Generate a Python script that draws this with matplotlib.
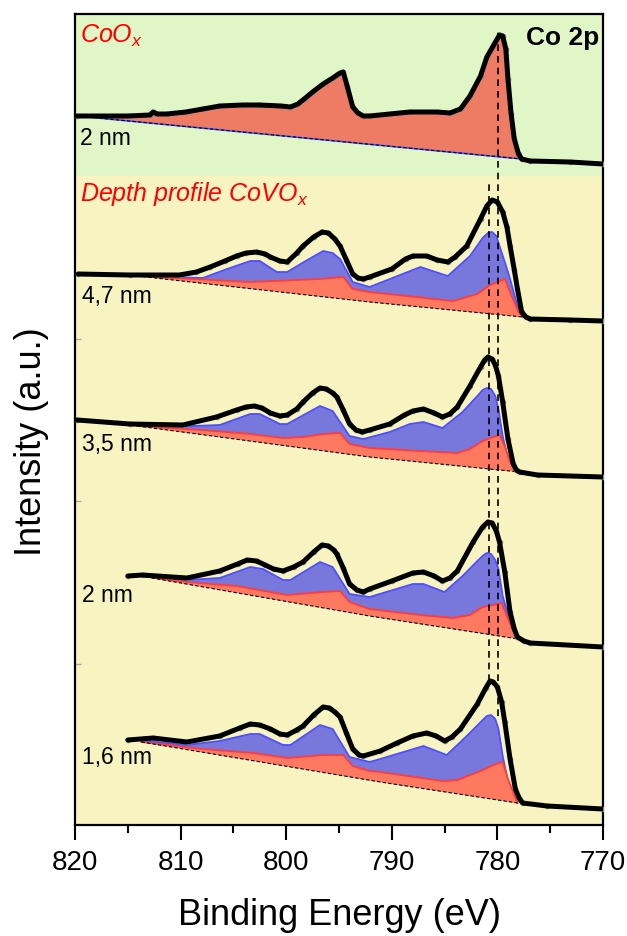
import numpy as np
import matplotlib
matplotlib.use("Agg")
import matplotlib.pyplot as plt

plt.rcParams['font.family'] = ['Liberation Sans', 'DejaVu Sans']
plt.rcParams['mathtext.fontset'] = 'custom'
plt.rcParams['mathtext.rm'] = 'Liberation Sans'
plt.rcParams['mathtext.it'] = 'Liberation Sans:italic'

# ---- data (binding energy in eV, intensity in arbitrary units incl. offsets) ----
# CoOx reference, 2 nm
coox_e = [819.8, 815.0, 812.9, 812.6, 812.2, 811.3, 809.5, 807.9, 806.3, 804.1, 802.5, 800.5, 799.6,
          798.9, 798.3, 797.5, 796.5, 795.6, 794.9, 794.6, 794.2, 793.7, 793.2, 792.7, 792.1,
          790.2, 788.3, 785.7, 784.5, 783.5, 782.6, 781.6, 781.0, 780.4, 779.8, 779.5, 779.2,
          779.0, 778.7, 778.4, 778.0, 777.7, 776.9, 773.1, 770.0]
coox_i = [709, 709, 710, 713, 711, 711, 713, 716, 719, 720, 720, 719, 718,
          721, 726, 733, 741, 747, 752, 753, 738, 718, 712, 709, 709,
          711, 713, 713, 712, 716, 729, 749, 768, 779, 790, 789, 776,
          746, 711, 686, 671, 666, 664, 663, 661]
coox_base_e = [819.8, 777.7]
coox_base_i = [709, 666]

# CoVOx 4,7 nm
s1_e = [819.7, 814.8, 810.1, 808.5, 807.2, 805.8, 804.7, 803.8, 802.8, 802.0, 801.5, 800.6, 799.9,
        799.0, 798.4, 797.4, 796.6, 796.0, 795.4, 794.9, 794.3, 793.7, 793.2, 792.7, 792.1,
        790.0, 788.7, 788.0, 786.7, 785.7, 784.7, 784.0, 782.9, 781.6, 781.0, 780.5, 780.0,
        779.5, 779.1, 778.8, 778.4, 778.1, 777.7, 777.3, 776.9, 773.1, 770.0]
s1_i = [551, 550, 550, 553, 558, 564, 569, 572, 573, 571, 568, 564, 563,
        572, 579, 588, 593, 592, 586, 579, 565, 551, 547, 546, 548,
        556, 566, 569, 569, 565, 563, 568, 579, 606, 619, 625, 623,
        613, 598, 579, 555, 536, 513, 508, 506, 505, 504]
s1_blue_e = [813.8, 807.9, 805.6, 803.4, 802.5, 800.9, 799.9, 798.0, 796.5, 795.6, 794.9, 793.7,
             792.1, 787.3, 784.7, 782.6, 781.4, 780.9, 780.5, 780.1, 779.8, 779.3, 778.8, 778.1, 777.6]
s1_blue_i = [549, 547, 556, 564, 564, 553, 553, 565, 574, 572, 566, 543,
             538, 558, 549, 569, 587, 592, 593, 589, 579, 563, 546, 519, 508]
s1_red_e = [814.1, 803.4, 796.8, 794.6, 793.7, 792.1, 784.2, 781.9, 780.7, 779.3, 778.8, 778.0, 777.6]
s1_red_i = [549, 543, 546, 548, 536, 533, 524, 531, 540, 546, 533, 513, 508]
s1_base_e = [814.1, 792.1, 777.6]
s1_base_i = [549, 523, 508]

# CoVOx 3,5 nm
s2_e = [819.8, 814.8, 809.8, 806.6, 804.7, 803.8, 803.0, 802.3, 801.5, 800.6, 799.9, 799.0, 798.4,
        797.5, 796.8, 796.2, 795.6, 795.2, 794.6, 794.0, 793.4, 792.8, 792.1, 790.2, 788.8,
        788.0, 787.0, 786.0, 785.2, 784.5, 783.8, 782.6, 781.6, 781.2, 780.9, 780.5, 780.2,
        779.9, 779.5, 779.0, 778.5, 778.2, 777.9, 776.2, 770.0]
s2_i = [405, 401, 400, 408, 415, 418, 419, 417, 412, 409, 410, 416, 423,
        432, 437, 436, 432, 428, 415, 401, 395, 393, 395, 401, 410,
        414, 416, 412, 408, 411, 418, 439, 458, 465, 468, 466, 460,
        449, 423, 386, 361, 355, 353, 350, 348]
s2_blue_e = [814.1, 811.5, 806.3, 803.4, 802.5, 800.6, 799.9, 796.8, 795.6, 794.0, 792.7, 790.2,
             788.3, 787.0, 785.2, 783.3, 781.9, 781.4, 781.0, 780.6, 780.2, 779.9, 779.5, 779.0,
             778.3, 777.9]
s2_blue_i = [399, 398, 400, 411, 411, 401, 401, 419, 414, 389, 386, 393,
             401, 403, 397, 413, 429, 435, 437, 436, 429, 416, 389, 366,
             355, 353]
s2_red_e = [814.1, 807.9, 803.4, 800.3, 798.4, 796.5, 794.9, 794.0, 792.1, 787.3, 783.8, 782.6,
            781.4, 780.4, 779.8, 779.3, 778.8, 778.1, 777.9]
s2_red_i = [399, 395, 391, 387, 388, 391, 392, 381, 377, 374, 372, 376,
            384, 388, 390, 379, 363, 354, 353]
s2_base_e = [814.1, 792.1, 777.9]
s2_base_i = [399, 368, 353]

# CoVOx 2 nm
s3_e = [815.0, 813.6, 809.4, 806.3, 804.6, 803.7, 802.8, 802.0, 801.2, 800.3, 799.3, 798.4, 797.4,
        796.6, 796.0, 795.5, 795.2, 794.6, 794.0, 793.3, 792.7, 792.1, 790.0, 788.0, 787.0,
        786.0, 785.2, 784.5, 783.8, 782.3, 781.4, 780.9, 780.5, 780.1, 779.8, 779.3, 778.8,
        778.4, 778.1, 777.5, 776.9, 770.0]
s3_i = [249, 250, 247, 254, 261, 265, 264, 260, 256, 254, 258, 263, 273,
        280, 279, 275, 271, 257, 241, 235, 233, 236, 244, 252, 253,
        249, 244, 247, 254, 283, 298, 303, 302, 294, 283, 253, 213,
        196, 188, 184, 182, 178]
s3_blue_e = [813.8, 809.4, 806.3, 803.4, 802.2, 800.3, 799.6, 796.8, 795.6, 794.0, 792.1, 788.0,
             787.0, 785.0, 783.3, 781.9, 781.3, 781.0, 780.6, 780.2, 779.9, 779.5, 778.8, 778.0]
s3_blue_i = [249, 245, 247, 258, 256, 245, 245, 263, 258, 231, 228, 241,
             241, 233, 249, 264, 270, 272, 271, 265, 256, 229, 203, 186]
s3_red_e = [813.8, 809.4, 804.7, 799.9, 796.5, 794.9, 794.0, 792.1, 787.3, 784.2, 782.6, 781.4,
            780.4, 779.6, 779.1, 778.6, 778.0]
s3_red_i = [249, 243, 239, 230, 233, 234, 223, 216, 210, 207, 210, 218,
            220, 222, 209, 196, 186]
s3_base_e = [813.8, 792.1, 778.0]
s3_base_i = [249, 209, 186]

# CoVOx 1,6 nm
s4_e = [815.0, 812.6, 809.4, 806.3, 804.4, 803.4, 802.5, 801.5, 800.6, 799.9, 799.0, 798.4, 797.4,
        796.5, 795.9, 795.4, 794.9, 794.3, 793.7, 793.1, 792.7, 791.1, 789.5, 788.0, 786.7,
        785.8, 785.0, 784.3, 783.5, 781.9, 781.1, 780.7, 780.4, 780.0, 779.6, 779.3, 778.8,
        778.3, 777.9, 777.6, 775.3, 770.0]
s4_i = [85, 87, 83, 89, 97, 101, 100, 96, 91, 90, 95, 99, 110,
        118, 117, 113, 108, 92, 76, 70, 69, 74, 82, 89, 92,
        89, 84, 88, 96, 121, 137, 144, 143, 138, 123, 103, 66,
        36, 26, 22, 19, 16]
s4_blue_e = [813.7, 813.2, 809.4, 806.3, 803.4, 802.5, 800.3, 799.6, 796.8, 795.6, 794.0, 792.1,
             791.1, 787.0, 784.8, 782.9, 781.3, 781.0, 780.6, 780.2, 779.9, 779.5, 779.0, 778.1]
s4_blue_i = [83, 84, 80, 84, 91, 91, 80, 80, 100, 96, 68, 63,
             66, 79, 70, 89, 106, 109, 110, 106, 96, 69, 43, 22]
s4_red_e = [813.7, 807.9, 803.1, 799.9, 796.5, 794.6, 793.7, 792.1, 791.1, 785.2, 783.8, 781.6,
            780.4, 779.5, 779.0, 778.1]
s4_red_i = [83, 76, 72, 67, 70, 70, 59, 54, 53, 44, 45, 54,
            60, 63, 46, 22]
s4_base_e = [813.7, 791.1, 778.1]
s4_base_i = [83, 43, 22]

depth_labels = ["4,7 nm", "3,5 nm", "2 nm", "1,6 nm"]
label_levels = [523, 375, 224, 62]

ref_lines_e = [779.9, 780.8]
ref_lines_top = [793, 641]
ref_lines_bottom = [109, 144]

panel_edges = [161, 324, 486]

GREEN = "#e1f6c6"
YELLOW = "#f7f4c2"
RED_TOP = "#ee7c64"
RED = "#ff7860"
RED_EDGE = "#ff3b3b"
BLUE = "#7878dc"
BLUE_EDGE = "#4f4fff"

fig = plt.figure(figsize=(6.27, 9.37), dpi=100)
ax = fig.add_axes([75 / 627, 1 - 826 / 937, 528 / 627, 811 / 937])
ax.set_xlim(820, 770)
ax.set_ylim(0, 811)

ax.axhspan(649, 811, color=GREEN, zorder=0, lw=0)
ax.axhspan(0, 649, color=YELLOW, zorder=0, lw=0)


def poly(ax, top_e, top_i, base_e, base_i, **kw):
    xs = np.r_[top_e, base_e[::-1]]
    ys = np.r_[top_i, base_i[::-1]]
    ax.fill(xs, ys, **kw)


# top CoOx panel
ce = np.array(coox_e)
ci = np.array(coox_i)
m = ce >= coox_base_e[-1]
poly(ax, ce[m], ci[m], np.array(coox_base_e), np.array(coox_base_i), color=RED_TOP, lw=0, zorder=2)
ax.plot(coox_base_e, coox_base_i, color=BLUE_EDGE, lw=1.2, zorder=3)
ax.plot(coox_base_e, coox_base_i, color="black", lw=0.8, ls=(0, (3, 2)), zorder=3)
ax.plot(coox_e, coox_i, "o", color="#909090", ms=3, zorder=4)
ax.plot(coox_e, coox_i, color="black", lw=3.6, zorder=5,
        solid_joinstyle="round", solid_capstyle="round")

spectra = [
    (s1_e, s1_i, s1_blue_e, s1_blue_i, s1_red_e, s1_red_i, s1_base_e, s1_base_i),
    (s2_e, s2_i, s2_blue_e, s2_blue_i, s2_red_e, s2_red_i, s2_base_e, s2_base_i),
    (s3_e, s3_i, s3_blue_e, s3_blue_i, s3_red_e, s3_red_i, s3_base_e, s3_base_i),
    (s4_e, s4_i, s4_blue_e, s4_blue_i, s4_red_e, s4_red_i, s4_base_e, s4_base_i),
]

for be, bi, ue, ui, re_, ri, ke, ki in spectra:
    ke = np.array(ke)
    ki = np.array(ki)
    poly(ax, np.array(ue), np.array(ui), ke, ki, color=BLUE, lw=0, zorder=2)
    ax.plot(ue, ui, color=BLUE_EDGE, lw=1.3, zorder=2.5, solid_joinstyle="round")
    poly(ax, np.array(re_), np.array(ri), ke, ki, color=RED, lw=0, zorder=2.6)
    ax.plot(re_, ri, color=RED_EDGE, lw=1.3, zorder=2.7, solid_joinstyle="round")
    ax.plot(ke, ki, color="black", lw=0.8, ls=(0, (3, 2)), zorder=3)
    ax.plot(be, bi, "o", color="#909090", ms=3, zorder=4)
    ax.plot(be, bi, color="black", lw=3.6, zorder=5,
            solid_joinstyle="round", solid_capstyle="round")

for e, t, b in zip(ref_lines_e, ref_lines_top, ref_lines_bottom):
    ax.plot([e, e], [b, t], color="black", lw=1.2, ls=(0, (4, 3)), zorder=6)

# texts
ax.text(819.5, 783, "CoO$_x$", color="red", style="italic", fontsize=18, va="baseline")
ax.text(770.4, 781, "Co 2p", color="black", fontweight="bold", fontsize=19, ha="right", va="baseline")
ax.text(819.5, 681, "2 nm", fontsize=16.5, va="baseline")
ax.text(819.5, 625, "Depth profile CoVO$_x$", color="red", style="italic", fontsize=18, va="baseline")
for lab, lev in zip(depth_labels, label_levels):
    ax.text(819.3, lev, lab, fontsize=16.5, va="baseline")

# axes styling
ax.set_xticks([820, 810, 800, 790, 780, 770])
ax.set_xticks([815, 805, 795, 785, 775], minor=True)
ax.tick_params(axis="x", which="major", direction="out", length=11, width=1.5, labelsize=20, pad=6)
ax.tick_params(axis="x", which="minor", direction="out", length=6, width=1.5)
ax.set_yticks(panel_edges)
ax.set_yticklabels([])
ax.tick_params(axis="y", direction="in", length=4, width=1, color="#aaaaaa")
for s in ax.spines.values():
    s.set_linewidth(1.6)

fig.text(339 / 627, 1 - 925 / 937, "Binding Energy (eV)", fontsize=26, ha="center", va="baseline")
fig.text(32 / 627, 1 - 442 / 937, "Intensity (a.u.)", fontsize=26, ha="center", va="center", rotation=90)

fig.savefig("out.png", dpi=100)
